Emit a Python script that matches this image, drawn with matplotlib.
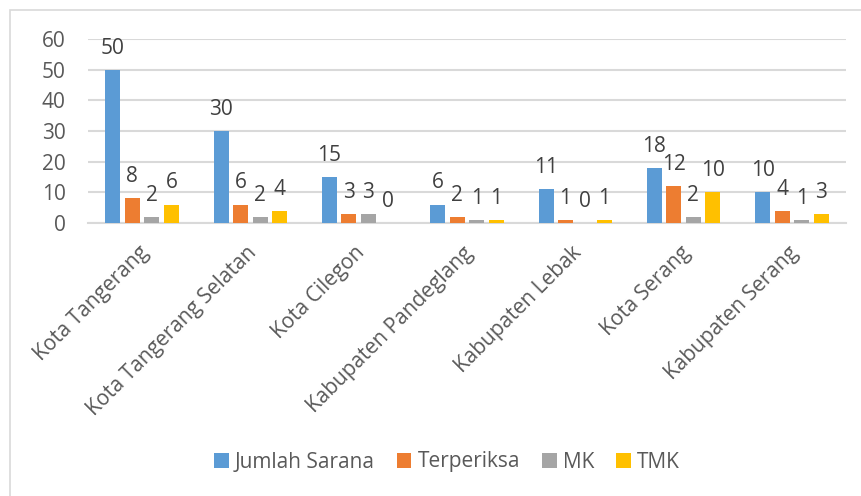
import matplotlib
matplotlib.use("Agg")
import matplotlib.pyplot as plt
from matplotlib.patches import Rectangle
from matplotlib.transforms import ScaledTranslation
import numpy as np

categories = ["Kota Tangerang", "Kota Tangerang Selatan", "Kota Cilegon",
              "Kabupaten Pandeglang", "Kabupaten Lebak", "Kota Serang",
              "Kabupaten Serang"]
jumlah_sarana = [50, 30, 15, 6, 11, 18, 10]
terperiksa = [8, 6, 3, 2, 1, 12, 4]
mk = [2, 2, 3, 1, 0, 2, 1]
tmk = [6, 4, 0, 1, 1, 10, 3]
series_names = ["Jumlah Sarana", "Terperiksa", "MK", "TMK"]
yticks = [0, 10, 20, 30, 40, 50, 60]

colors = ["#5B9BD5", "#ED7D31", "#A5A5A5", "#FFC000"]
series = [jumlah_sarana, terperiksa, mk, tmk]

plt.rcParams['font.family'] = ['Open Sans', 'DejaVu Sans']

W, H = 862, 496
fig = plt.figure(figsize=(W / 100, H / 100), dpi=100)
fig.patch.set_facecolor("white")
fig.add_artist(Rectangle((10 / W, -10 / H), (W + 10) / W, (H) / H,
                         transform=fig.transFigure, fill=False,
                         edgecolor="#D9D9D9", linewidth=1.2, clip_on=False))

ax = fig.add_axes([88 / W, 1 - 223 / H, (846 - 88) / W, (223 - 39) / H])
x = np.arange(len(categories))
bw = 0.138
pitch = 0.18
offsets = (np.arange(4) - 1.5) * pitch
for i, (vals, col, name) in enumerate(zip(series, colors, series_names)):
    ax.bar(x + offsets[i], vals, width=bw, color=col, label=name,
           zorder=3, linewidth=0)
    for xi, v in zip(x + offsets[i], vals):
        ax.annotate(str(v), (xi, v), xytext=(0, 8), textcoords="offset points",
                    ha="center", va="bottom", fontsize=15, color="#404040")

ax.set_xlim(-0.5, len(categories) - 0.5)
ax.set_ylim(0, 60)
ax.set_yticks(yticks)
ax.set_yticklabels([str(t) for t in yticks])
ax.yaxis.grid(True, color="#D9D9D9", linewidth=1.5, zorder=0)
ax.set_axisbelow(True)
for s in ["top", "right", "left"]:
    ax.spines[s].set_visible(False)
ax.spines["bottom"].set_color("#D9D9D9")
ax.spines["bottom"].set_linewidth(1.5)
ax.tick_params(axis="y", length=0, pad=16, labelsize=15, labelcolor="#595959")
ax.tick_params(axis="x", length=0, pad=14, labelsize=15, labelcolor="#595959")
ax.set_xticks(x)
ax.set_xticklabels(categories, rotation=45, ha="right", va="top",
                   rotation_mode="anchor")
shift = ScaledTranslation(-4 / 100, 0, fig.dpi_scale_trans)
for lab in ax.get_xticklabels():
    lab.set_transform(lab.get_transform() + shift)

fig.legend(loc="center", bbox_to_anchor=(447 / W, 1 - 462 / H), ncol=4,
           frameon=False, fontsize=15, handlelength=0.7,
           handleheight=0.7, handletextpad=0.3, columnspacing=1.05,
           labelcolor="#595959")

fig.savefig("out.png", dpi=100, facecolor="white")
